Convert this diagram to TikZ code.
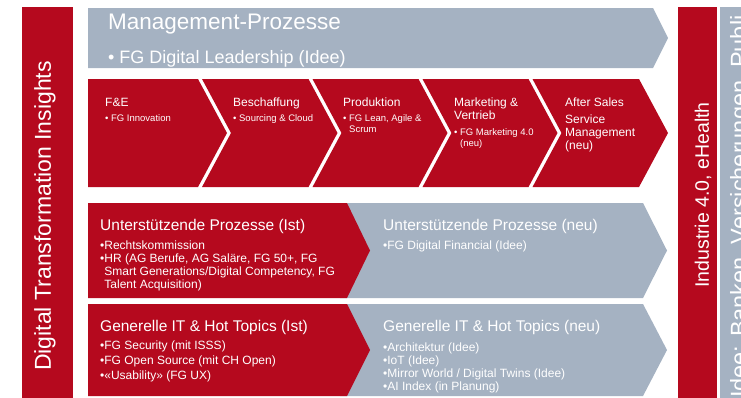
\documentclass[tikz,border=0pt]{standalone}
\usepackage{fontspec}
\setmainfont{Liberation Sans}
\usetikzlibrary{positioning}
\definecolor{dtired}{RGB}{181,9,30}
\definecolor{dtigrey}{RGB}{165,178,194}
\tikzset{
    redbox/.style={fill=dtired},
    greybox/.style={fill=dtigrey},
    txt/.style={text=white, inner sep=0pt, align=left},
    chevhead/.style={txt, anchor=base west, font=\fontsize{12}{13}\selectfont},
    chevbul/.style={txt, font=\fontsize{9.5}{10.5}\selectfont},
    rowhead/.style={txt, anchor=base west, font=\fontsize{15.5}{18}\selectfont},
    rowbul/.style={txt, font=\fontsize{12}{13.2}\selectfont},
    sidetxt/.style={text=white, inner sep=0pt, rotate=90},
}
\begin{document}
\begin{tikzpicture}[x=1pt, y=-1pt]
    \useasboundingbox (0,0) rectangle (741,397);
    \clip (0,0) rectangle (741,397);

    % side bars
    \fill[redbox] (22,7) rectangle (73,400);
    \fill[redbox] (678,7) rectangle (717,400);
    \fill[greybox] (720,7) rectangle (745,400);

    % management
    \fill[greybox] (88,8) -- (653,8) -- ++(15,30) -- ++(-15,30) -- (88,68) -- cycle;

    % value chain
    \fill[redbox] (88,79) -- (198,79) -- ++(29,54) -- ++(-29,54) -- (88,187) -- cycle;
    \foreach \l/\r in {202/308.5, 312.5/418.5, 422.5/528.5, 532.5/639}
        \fill[redbox] (\l,79) -- (\r,79) -- ++(29,54) -- ++(-29,54) -- (\l,187) -- ++(29,-54) -- cycle;

    % support processes and IT
    \fill[greybox] (340,203) -- (643,203) -- ++(24,47.5) -- ++(-24,47.5) -- (340,298) -- cycle;
    \fill[redbox] (88,203) -- (347,203) -- ++(23,47.5) -- ++(-23,47.5) -- (88,298) -- cycle;
    \fill[greybox] (340,304) -- (643,304) -- ++(24,46) -- ++(-24,46) -- (340,396) -- cycle;
    \fill[redbox] (88,304) -- (347,304) -- ++(23,46) -- ++(-23,46) -- (88,396) -- cycle;

    \node[txt, anchor=base west, font=\fontsize{22.5}{26}\selectfont] (mgmt) at (108,29) {Management-Prozesse};
    \node[txt, font=\fontsize{18}{21}\selectfont, below=21pt of mgmt.base west, anchor=north west] (mgmtBul) {• FG Digital Leadership (Idee)};

    \node[chevhead] (fe) at (105,106) {F\&E};
    \node[chevbul, below=8.6pt of fe.base west, anchor=north west] (feBul) {• FG Innovation};
    \node[chevhead] (besch) at (233,106) {Beschaffung};
    \node[chevbul, below=8.6pt of besch.base west, anchor=north west] (beschBul) {• Sourcing \& Cloud};
    \node[chevhead] (prod) at (343,106) {Produktion};
    \node[chevbul, below=8.6pt of prod.base west, anchor=north west] (prodBul) {• FG Lean, Agile \&\\\hphantom{• }Scrum};
    \node[chevhead, anchor=north west] (mkt) at (454,97.2) {Marketing \&\\Vertrieb};
    \node[chevbul, below=9.2pt of mkt.south west, anchor=north west] (mktBul) {• FG Marketing 4.0\\\hphantom{• }(neu)};
    \node[chevhead] (after) at (565,106) {After Sales};
    \node[chevhead, below=8.8pt of after.base west, anchor=north west] (afterBul) {Service\\Management\\(neu)};

    \node[rowhead] (upIst) at (100,230.4) {Unterstützende Prozesse (Ist)};
    \node[rowbul, below=9.8pt of upIst.base west, anchor=north west] (upIstBul) {•Rechtskommission\\•HR (AG Berufe, AG Saläre, FG 50+, FG\\\hphantom{•}Smart Generations/Digital Competency, FG\\\hphantom{•}Talent Acquisition)};
    \node[rowhead] (upNeu) at (383,230.4) {Unterstützende Prozesse (neu)};
    \node[rowbul, below=9.8pt of upNeu.base west, anchor=north west] (upNeuBul) {•FG Digital Financial (Idee)};

    \node[rowhead] (itIst) at (100,331) {Generelle IT \& Hot Topics (Ist)};
    \node[rowbul, font=\fontsize{12}{15}\selectfont, below=9.7pt of itIst.base west, anchor=north west] (itIstBul) {•FG Security (mit ISSS)\\•FG Open Source (mit CH Open)\\•«Usability» (FG UX)};
    \node[rowhead] (itNeu) at (383,331) {Generelle IT \& Hot Topics (neu)};
    \node[rowbul, below=11.2pt of itNeu.base west, anchor=north west] (itNeuBul) {•Architektur (Idee)\\•IoT (Idee)\\•Mirror World / Digital Twins (Idee)\\•AI Index (in Planung)};

    \node[sidetxt, font=\fontsize{23}{26}\selectfont] (dti) at (45,216) {Digital Transformation Insights};
    \node[sidetxt, font=\fontsize{19.5}{22}\selectfont] (ind) at (703,195) {Industrie 4.0, eHealth};
    \node[sidetxt, anchor=base west, font=\fontsize{23.5}{26}\selectfont] (idee) at (747,398) {Idee: Banken, Versicherungen, Publi};
\end{tikzpicture}
\end{document}
